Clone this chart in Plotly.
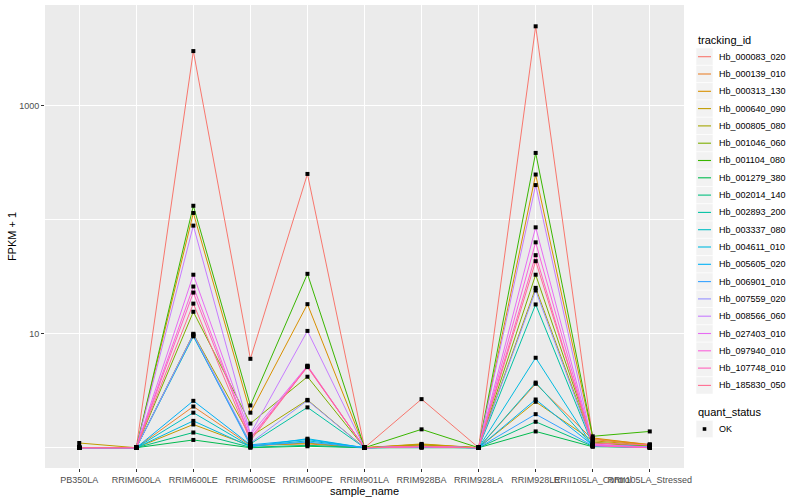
import plotly.graph_objects as go

samples = ["PB350LA", "RRIM600LA", "RRIM600LE", "RRIM600SE", "RRIM600PE", "RRIM901LA",
           "RRIM928BA", "RRIM928LA", "RRIM928LE", "RRII105LA_Control", "RRII105LA_Stressed"]

tracking_ids = ["Hb_000083_020", "Hb_000139_010", "Hb_000313_130", "Hb_000640_090",
                "Hb_000805_080", "Hb_001046_060", "Hb_001104_080", "Hb_001279_380",
                "Hb_002014_140", "Hb_002893_200", "Hb_003337_080", "Hb_004611_010",
                "Hb_005605_020", "Hb_006901_010", "Hb_007559_020", "Hb_008566_060",
                "Hb_027403_010", "Hb_097940_010", "Hb_107748_010", "Hb_185830_050"]

colors = ["#F8766D", "#EA8331", "#D89000", "#C09B00", "#A3A500", "#7CAE00", "#39B600",
          "#00BB4E", "#00BF7D", "#00C1A3", "#00BFC4", "#00BAE0", "#00B0F6", "#35A2FF",
          "#9590FF", "#C77CFF", "#E76BF3", "#FA62DB", "#FF62BC", "#FF6C91"]

quant_status = ["OK"]

# FPKM + 1 per sample (same order as samples)
hb_000083_020 = [1, 1, 3030, 6.03, 253, 1, 2.67, 1, 5000, 1.20, 1.07]
hb_000139_010 = [1, 1, 2.30, 1.05, 1.08, 1, 1.06, 1, 3.64, 1.18, 1.06]
hb_000313_130 = [1, 1, 115, 2.03, 18.2, 1, 1.07, 1, 250, 1.22, 1.06]
hb_000640_090 = [1.1, 1, 1.60, 1.04, 1.10, 1, 1.08, 1, 2.53, 1.15, 1.05]
hb_000805_080 = [1, 1, 10.0, 1.25, 2.63, 1, 1.04, 1, 25.3, 1.10, 1.03]
hb_001046_060 = [1, 1, 15.6, 1.63, 4.2, 1, 1.04, 1, 33, 1.12, 1.03]
hb_001104_080 = [1, 1, 133, 2.35, 33.6, 1, 1.45, 1, 387, 1.26, 1.39]
hb_001279_380 = [1, 1, 1.17, 1.00, 1.03, 1, 1.00, 1, 1.39, 1.02, 1.01]
hb_002014_140 = [1, 1, 1.36, 1.01, 1.05, 1, 1.01, 1, 1.69, 1.03, 1.01]
hb_002893_200 = [1, 1, 9.5, 1.08, 2.26, 1, 1.02, 1, 18.1, 1.05, 1.02]
hb_003337_080 = [1, 1, 2.03, 1.03, 1.15, 1, 1.01, 1, 3.73, 1.04, 1.02]
hb_004611_010 = [1, 1, 1.72, 1.02, 1.20, 1, 1.01, 1, 6.16, 1.03, 1.01]
hb_005605_020 = [1, 1, 2.58, 1.06, 1.18, 1, 1.02, 1, 2.65, 1.05, 1.02]
hb_006901_010 = [1, 1, 9.7, 1.04, 1.12, 1, 1.02, 1, 1.97, 1.04, 1.02]
hb_007559_020 = [1, 1, 9.9, 1.10, 2.60, 1, 1.02, 1, 24, 1.06, 1.02]
hb_008566_060 = [1, 1, 89, 1.32, 10.6, 1, 1.03, 1, 202, 1.05, 1.00]
hb_027403_010 = [1, 1, 33, 1.30, 5.25, 1, 1.02, 1, 86, 1.08, 1.00]
hb_097940_010 = [1, 1, 26, 1.22, 5.20, 1, 1.02, 1, 63.5, 1.06, 1.00]
hb_107748_010 = [1, 1, 23, 1.20, 5.10, 1, 1.02, 1, 49, 1.04, 1.00]
hb_185830_050 = [1, 1, 18.4, 1.15, 5.15, 1, 1.03, 1, 43.4, 1.10, 1.06]

series = [hb_000083_020, hb_000139_010, hb_000313_130, hb_000640_090, hb_000805_080,
          hb_001046_060, hb_001104_080, hb_001279_380, hb_002014_140, hb_002893_200,
          hb_003337_080, hb_004611_010, hb_005605_020, hb_006901_010, hb_007559_020,
          hb_008566_060, hb_027403_010, hb_097940_010, hb_107748_010, hb_185830_050]

FONT = "Liberation Sans, Arial, sans-serif"
W, H = 800, 500
ML, MR, MT, MB = 45, 116, 5, 32
PW, PH = W - ML - MR, H - MT - MB


def px(xp):
    return (xp - ML) / PW


def py(yp):
    return 1 - (yp - MT) / PH


fig = go.Figure()
for name, vals, col in zip(tracking_ids, series, colors):
    fig.add_trace(go.Scatter(x=samples, y=vals, mode="lines", name=name,
                             line=dict(color=col, width=1), showlegend=False))

all_x = [s for _ in series for s in samples]
all_y = [v for vals in series for v in vals]
fig.add_trace(go.Scatter(x=all_x, y=all_y, mode="markers", name=quant_status[0],
                         marker=dict(color="black", size=4, symbol="square"),
                         showlegend=False))

# ggplot-style legend (keys and labels)
shapes = []
annotations = []
KEY_L, KEY_R, KEY_H = 696, 713, 17.3
TXT_X = 717
annotations.append(dict(text="tracking_id", xref="paper", yref="paper", x=px(KEY_L), y=py(40.5),
                        xanchor="left", yanchor="middle", showarrow=False,
                        font=dict(size=11, color="black")))
for i, (name, col) in enumerate(zip(tracking_ids, colors)):
    cy = 56.7 + i * KEY_H
    shapes.append(dict(type="rect", xref="paper", yref="paper",
                       x0=px(KEY_L), x1=px(KEY_R), y0=py(cy - KEY_H / 2), y1=py(cy + KEY_H / 2),
                       fillcolor="#F2F2F2", line=dict(color="white", width=0.6), layer="above"))
    shapes.append(dict(type="line", xref="paper", yref="paper",
                       x0=px(KEY_L + 2), x1=px(KEY_R - 2), y0=py(cy), y1=py(cy),
                       line=dict(color=col, width=1.1), layer="above"))
    annotations.append(dict(text=name, xref="paper", yref="paper", x=px(TXT_X), y=py(cy),
                            xanchor="left", yanchor="middle", showarrow=False,
                            font=dict(size=9, color="black")))

annotations.append(dict(text="quant_status", xref="paper", yref="paper", x=px(KEY_L), y=py(412),
                        xanchor="left", yanchor="middle", showarrow=False,
                        font=dict(size=11, color="black")))
ok_y = 429
shapes.append(dict(type="rect", xref="paper", yref="paper",
                   x0=px(KEY_L), x1=px(KEY_R), y0=py(ok_y - KEY_H / 2), y1=py(ok_y + KEY_H / 2),
                   fillcolor="#F2F2F2", line=dict(color="white", width=0.6), layer="above"))
cx = (KEY_L + KEY_R) / 2
shapes.append(dict(type="rect", xref="paper", yref="paper",
                   x0=px(cx - 1.8), x1=px(cx + 1.8), y0=py(ok_y - 1.8), y1=py(ok_y + 1.8),
                   fillcolor="black", line=dict(width=0), layer="above"))
annotations.append(dict(text=quant_status[0], xref="paper", yref="paper", x=px(TXT_X), y=py(ok_y),
                        xanchor="left", yanchor="middle", showarrow=False,
                        font=dict(size=9, color="black")))

fig.update_layout(
    width=W, height=H,
    margin=dict(l=ML, r=MR, t=MT, b=MB, autoexpand=False),
    paper_bgcolor="white", plot_bgcolor="#EBEBEB",
    font=dict(family=FONT, size=9, color="black"),
    showlegend=False,
    shapes=shapes, annotations=annotations,
)
fig.update_xaxes(
    type="category", categoryorder="array", categoryarray=samples,
    range=[-0.6, 10.6], showgrid=True, gridcolor="white", gridwidth=1.1,
    zeroline=False, showline=False, tickangle=0, automargin=False,
    ticks="outside", ticklen=3, tickcolor="#333333",
    tickfont=dict(size=9, color="#4D4D4D"),
    title=dict(text="sample_name", font=dict(size=11), standoff=1),
)
fig.update_yaxes(
    type="log", range=[-0.178, 3.886],
    tickvals=[10, 1000], ticktext=["10", "1000"],
    showgrid=True, gridcolor="white", gridwidth=1.1,
    minor=dict(tickvals=[1, 100, 10000], showgrid=True, gridcolor="white", gridwidth=0.5, ticklen=0),
    zeroline=False, showline=False, automargin=False,
    ticks="outside", ticklen=3, tickcolor="#333333",
    tickfont=dict(size=9, color="#4D4D4D"),
    title=dict(text="FPKM + 1", font=dict(size=11), standoff=0),
)

fig.write_html("out.html", config={"displayModeBar": False},
               post_script="document.body.style.margin='0';document.body.style.overflow='hidden';")
